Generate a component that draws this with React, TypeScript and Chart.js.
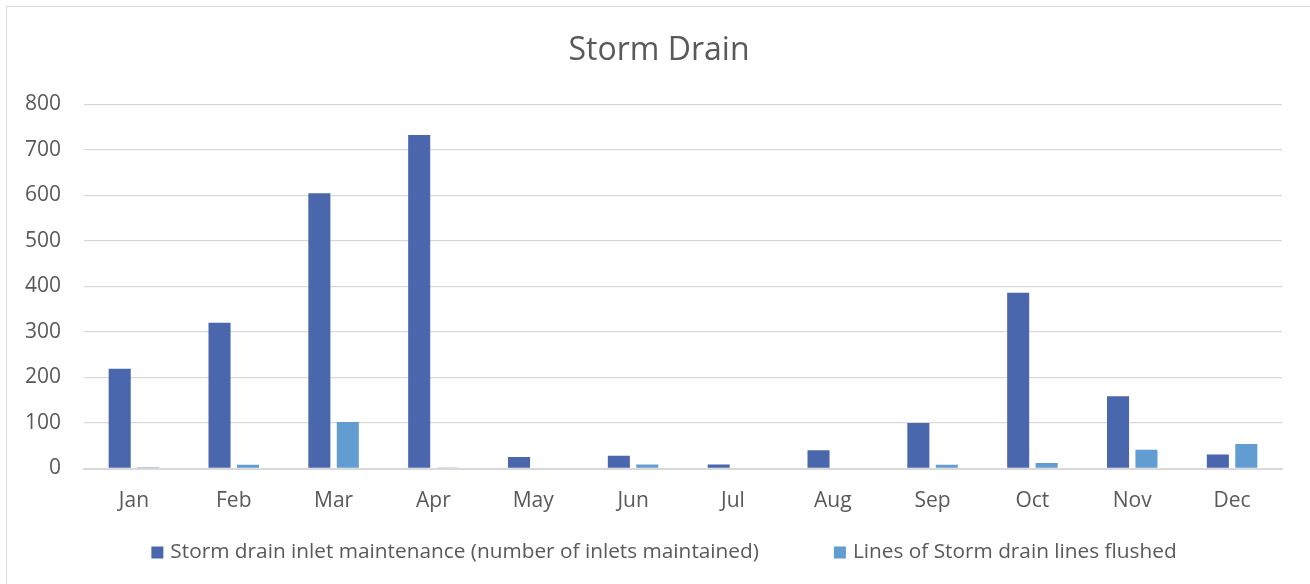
import React, { useEffect, useRef } from "react";
import { Chart, registerables } from "chart.js";

Chart.register(...registerables);

const categories = ["Jan", "Feb", "Mar", "Apr", "May", "Jun", "Jul", "Aug", "Sep", "Oct", "Nov", "Dec"];
const inletsMaintained = [219, 320, 605, 733, 25, 28, 9, 40, 100, 386, 159, 31];
const linesFlushed = [3, 8, 102, 2, 0, 9, 0, 0, 8, 12, 41, 54];
const seriesNames = [
  "Storm drain inlet maintenance (number of inlets maintained)",
  "Lines of Storm drain lines flushed",
];
const seriesColors = ["#4A66AC", "#629DD1"];
const titleText = "Storm Drain";
const FONT = "'Open Sans', 'DejaVu Sans', sans-serif";
const TEXT_COLOR = "#595959";

const framePlugin = {
  id: "frame",
  afterLayout(chart: any) {
    // widen the y-axis label clip area so labels may extend into the left margin
    if (chart.scales.y) chart.scales.y.left = 0;
  },
  beforeDraw(chart: any) {
    const { ctx, width, height } = chart;
    ctx.save();
    ctx.fillStyle = "#ffffff";
    ctx.fillRect(0, 0, width, height);
    ctx.strokeStyle = "#d9d9d9";
    ctx.lineWidth = 1;
    ctx.strokeRect(6.5, 6.5, width - 4, height - 5);
    ctx.restore();
  },
};

const legendPlugin = {
  id: "customLegend",
  afterDraw(chart: any) {
    const { ctx, chartArea } = chart;
    const ds = chart.data.datasets;
    ctx.save();
    ctx.font = `20.8px ${FONT}`;
    ctx.textBaseline = "middle";
    const box = 12;
    const boxGap = 7;
    const itemGap = 75;
    const widths = ds.map((d: any) => box + boxGap + ctx.measureText(d.label).width);
    const total = widths.reduce((a: number, b: number) => a + b, 0) + itemGap * (ds.length - 1);
    let x = chart.width / 2 + 9 - total / 2;
    const y = chartArea.bottom + 84;
    ds.forEach((d: any, i: number) => {
      ctx.fillStyle = d.backgroundColor;
      ctx.fillRect(x, y - box / 2, box, box);
      ctx.fillStyle = TEXT_COLOR;
      ctx.fillText(d.label, x + box + boxGap, y);
      x += widths[i] + itemGap;
    });
    ctx.restore();
  },
};

export default function App() {
  const ref = useRef<HTMLCanvasElement | null>(null);
  useEffect(() => {
    if (!ref.current) return;
    const chart = new Chart(ref.current, {
      type: "bar",
      data: {
        labels: categories,
        datasets: [
          {
            label: seriesNames[0],
            data: inletsMaintained,
            backgroundColor: seriesColors[0],
            categoryPercentage: 0.57,
            barPercentage: 0.775,
          },
          {
            label: seriesNames[1],
            data: linesFlushed,
            backgroundColor: seriesColors[1],
            categoryPercentage: 0.57,
            barPercentage: 0.775,
          },
        ],
      },
      plugins: [framePlugin, legendPlugin],
      options: {
        responsive: false,
        animation: false,
        layout: { padding: { left: 36, right: 28, top: 0, bottom: 50.3 } },
        plugins: {
          legend: { display: false },
          tooltip: { enabled: false },
          title: {
            display: true,
            text: titleText,
            color: TEXT_COLOR,
            font: { family: FONT, size: 32, weight: "normal" },
            padding: { top: 32, bottom: 34 },
          },
        },
        scales: {
          x: {
            grid: { display: false, drawTicks: false },
            border: { display: true, color: "#d9d9d9", width: 2 },
            ticks: { color: TEXT_COLOR, font: { family: FONT, size: 21 }, padding: 20 },
          },
          y: {
            min: 0,
            max: 800,
            afterFit: (scale: any) => {
              scale.width = 48;
            },
            ticks: { stepSize: 100, color: TEXT_COLOR, font: { family: FONT, size: 21 }, padding: 23 },
            grid: { color: "#d9d9d9", lineWidth: 1.3, drawTicks: false },
            border: { display: false },
          },
        },
      },
    });
    return () => chart.destroy();
  }, []);
  return (
    <div style={{ position: "fixed", left: 0, top: 0, width: 1310, height: 584, background: "#fff" }}>
      <canvas ref={ref} width={1310} height={584} />
    </div>
  );
}
